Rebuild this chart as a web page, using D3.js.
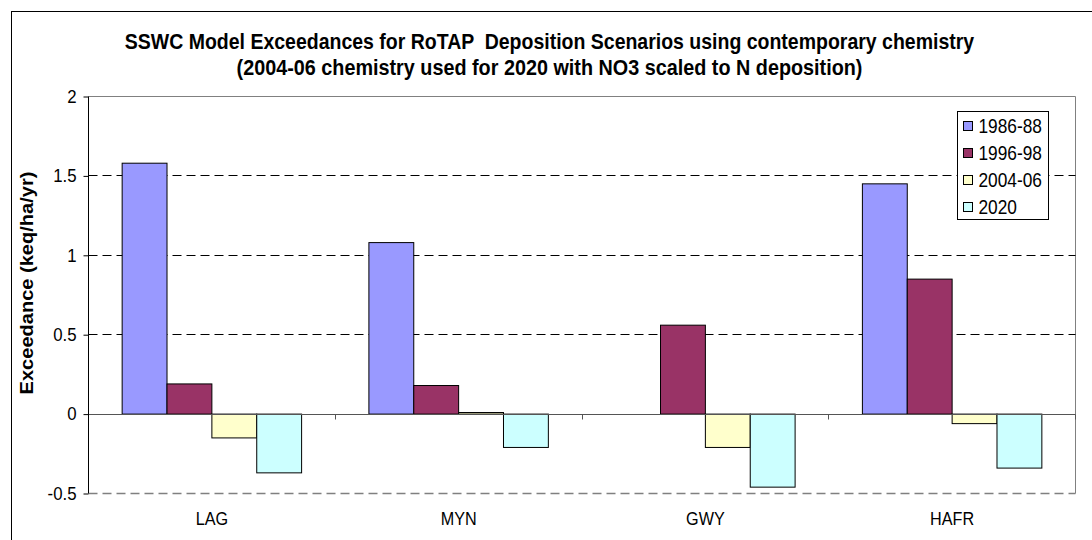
<!DOCTYPE html>
<html>
<head>
<meta charset="utf-8">
<script src="https://cdn.jsdelivr.net/npm/d3@7/dist/d3.min.js"></script>
<style>
  html, body { margin: 0; padding: 0; background: #fff; }
  svg { display: block; font-family: "Liberation Sans", Arial, sans-serif; }
</style>
</head>
<body>
<svg id="chart" width="1092" height="540"></svg>
<script>
// Sites along the x axis
const categories = ["LAG", "MYN", "GWY", "HAFR"];
// Deposition scenarios (legend order)
const seriesNames = ["1986-88", "1996-98", "2004-06", "2020"];
// Exceedance (keq/ha/yr) per site for each scenario
const values1986 = [1.58, 1.08, 0.0, 1.45];
const values1996 = [0.19, 0.18, 0.56, 0.85];
const values2004 = [-0.15, 0.01, -0.21, -0.06];
const values2020 = [-0.37, -0.21, -0.46, -0.34];
const seriesColors = ["#9999FF", "#993366", "#FFFFCC", "#CCFFFF"];
// Value axis ticks
const yTicks = [-0.5, 0, 0.5, 1, 1.5, 2];
const yTickLabels = ["-0.5", "0", "0.5", "1", "1.5", "2"];

const seriesValues = [values1986, values1996, values2004, values2020];

// Text is drawn slightly stretched in the vertical screen direction
const STRETCH = 1.12;

const svg = d3.select("#chart");

// Places a text element with its baseline at (x, y); the vertical stretch
// is applied on screen axes, so rotated text is stretched along its length
function stretchedText(parent, x, y, str, size, opts = {}) {
  const scale = opts.rotate ? `scale(${STRETCH},1)` : `scale(1,${STRETCH})`;
  return parent.append("text")
    .attr("transform", `translate(${x},${y})${opts.rotate ? " rotate(" + opts.rotate + ")" : ""} ${scale}`)
    .attr("x", 0).attr("y", 0)
    .attr("font-size", size)
    .attr("text-anchor", opts.anchor || "start")
    .attr("font-weight", opts.bold ? "bold" : null)
    .attr("fill", "#000")
    .style("white-space", "pre")
    .text(str);
}

// Outer chart frame
svg.append("rect")
  .attr("x", 11.5).attr("y", 11.5)
  .attr("width", 1100).attr("height", 560)
  .attr("fill", "#fff").attr("stroke", "#000").attr("stroke-width", 1);

const plot = { left: 88.5, right: 1075.5, top: 96.5, bottom: 493.5 };

const y = d3.scaleLinear().domain([-0.5, 2]).range([plot.bottom, plot.top]);
const x = d3.scaleBand().domain(categories).range([plot.left, plot.right]).padding(0);
const xInner = d3.scaleBand().domain(seriesNames)
  .range([0, x.bandwidth()]).paddingInner(0).paddingOuter(0.75);

const crisp = v => Math.round(v - 0.5) + 0.5;

// Plot area border (top and right)
svg.append("path")
  .attr("d", `M${plot.left},${plot.top}H${plot.right}V${plot.bottom}`)
  .attr("fill", "none").attr("stroke", "#808080").attr("stroke-width", 1);

// Dashed gridlines
svg.append("g").selectAll("line")
  .data(yTicks.filter(t => t !== 0 && t !== 2))
  .join("line")
  .attr("x1", plot.left).attr("x2", plot.right)
  .attr("y1", d => crisp(y(d))).attr("y2", d => crisp(y(d)))
  .attr("stroke", d => d === -0.5 ? "#808080" : "#000")
  .attr("stroke-width", d => d === -0.5 ? 1.6 : 1)
  .attr("stroke-dasharray", "9,5");

// Bars
const groups = svg.append("g").selectAll("g")
  .data(seriesNames)
  .join("g")
  .attr("fill", (d, i) => seriesColors[i]);

groups.selectAll("rect")
  .data((s, si) => categories.map((c, ci) => ({ c, s, v: seriesValues[si][ci] })))
  .join("rect")
  .filter(d => d.v !== 0)
  .attr("x", d => x(d.c) + xInner(d.s))
  .attr("width", xInner.bandwidth())
  .attr("y", d => y(Math.max(0, d.v)))
  .attr("height", d => Math.abs(y(d.v) - y(0)))
  .attr("stroke", "#000").attr("stroke-width", 1);

// Category axis along zero
const zeroY = crisp(y(0));
svg.append("line")
  .attr("x1", plot.left).attr("x2", plot.right)
  .attr("y1", zeroY).attr("y2", zeroY)
  .attr("stroke", "#555").attr("stroke-width", 1);
svg.append("g").selectAll("line")
  .data(d3.range(1, categories.length + 1))
  .join("line")
  .attr("x1", i => crisp(plot.left + x.step() * i))
  .attr("x2", i => crisp(plot.left + x.step() * i))
  .attr("y1", zeroY).attr("y2", zeroY + 5)
  .attr("stroke", "#555");

// Category labels
const catLabels = svg.append("g");
categories.forEach(c => {
  stretchedText(catLabels, x(c) + x.bandwidth() / 2, 525, c, 16.2, { anchor: "middle" });
});

// Value axis (ticks via d3, labels drawn stretched)
const yAxis = d3.axisLeft(y).tickValues(yTicks).tickFormat("").tickSize(5);
const ya = svg.append("g").attr("transform", `translate(${plot.left},0)`).call(yAxis);
ya.select(".domain").attr("stroke", "#000").attr("d", `M0,${plot.top}V${plot.bottom}`);
ya.selectAll(".tick line").attr("stroke", "#000");
const tickLabels = svg.append("g");
yTicks.forEach((t, i) => {
  stretchedText(tickLabels, 76.5, y(t) + 6.2, yTickLabels[i], 16.8, { anchor: "end" });
});

// Axis title
stretchedText(svg, 33, 283, "Exceedance (keq/ha/yr)", 17.9, { anchor: "middle", bold: true, rotate: -90 });

// Chart title
stretchedText(svg, 549.5, 48.5,
  "SSWC Model Exceedances for RoTAP  Deposition Scenarios using contemporary chemistry",
  19.5, { anchor: "middle", bold: true });
stretchedText(svg, 549.5, 74.5,
  "(2004-06 chemistry used for 2020 with NO3 scaled to N deposition)",
  19.8, { anchor: "middle", bold: true });

// Legend
const legend = svg.append("g");
legend.append("rect")
  .attr("x", 957.5).attr("y", 111.5).attr("width", 91).attr("height", 108)
  .attr("fill", "#fff").attr("stroke", "#000");
seriesNames.forEach((s, i) => {
  const cy = 126.5 + i * 27;
  legend.append("rect")
    .attr("x", 963.5).attr("y", cy - 5).attr("width", 9).attr("height", 9)
    .attr("fill", seriesColors[i]).attr("stroke", "#000");
  stretchedText(legend, 978.5, cy + 6, s, 17.3);
});
</script>
</body>
</html>
